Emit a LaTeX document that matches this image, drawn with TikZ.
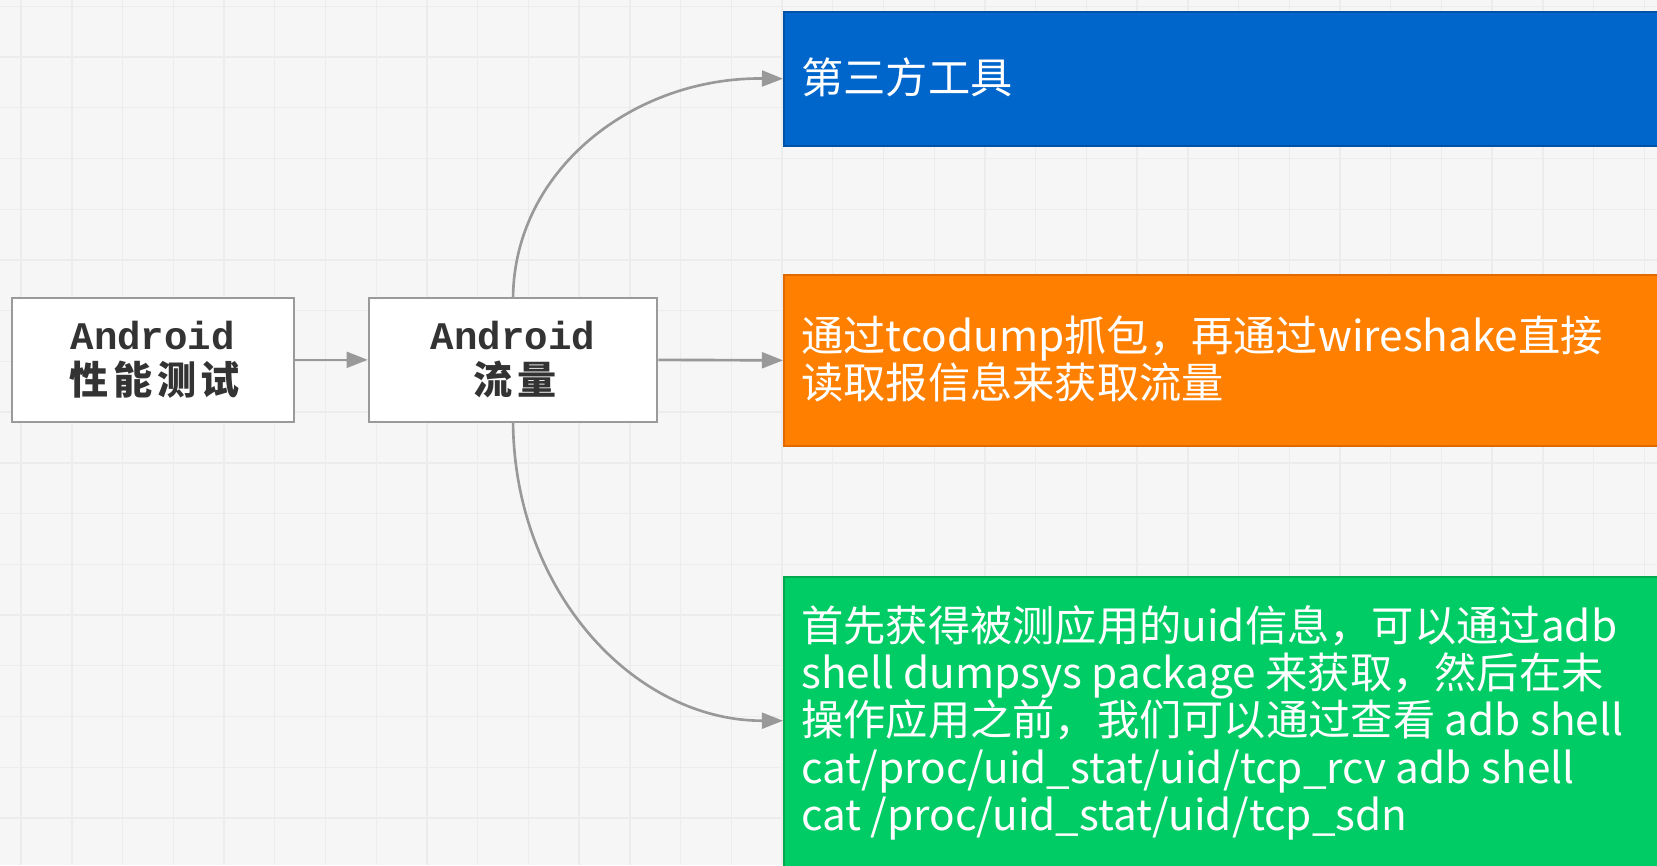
\documentclass[tikz,border=0pt]{standalone}
\usepackage{fontspec}
\usetikzlibrary{arrows.meta}
\newfontfamily\cjk{Noto Sans CJK SC}
\newfontfamily\cjkl[LetterSpace=12]{Noto Sans CJK SC}
\newfontfamily\monob{Liberation Mono}
\definecolor{bgc}{HTML}{F6F6F6}
\definecolor{gridc}{HTML}{ECECEC}
\definecolor{connc}{HTML}{999999}
\definecolor{boxb}{HTML}{9A9A9A}
\definecolor{txtc}{HTML}{333333}
\definecolor{bluef}{HTML}{0066CC}
\definecolor{blueb}{HTML}{0052A8}
\definecolor{orangef}{HTML}{FF8000}
\definecolor{orangeb}{HTML}{E06A00}
\definecolor{greenf}{HTML}{00CC66}
\definecolor{greenb}{HTML}{00A84E}
\begin{document}
\begin{tikzpicture}[x=1pt,y=-1pt,
  gridline/.style={draw=gridc, line width=1.3pt},
  conn/.style={draw=connc, line width=2.5pt, -{Triangle[length=20pt,width=15pt]}},
  leftbox/.style={draw=boxb, fill=white, line width=2pt, rectangle, inner sep=0pt,
    align=center, text=txtc, font=\fontsize{37}{43}\selectfont},
  rbox/.style={rectangle, line width=2pt, inner sep=0pt, anchor=north west, minimum width=880pt},
  rtext/.style={anchor=west, align=left, text=white, inner sep=0pt,
    font=\cjk\fontsize{40}{44.6}\selectfont}
]
\clip (0,0) rectangle (1568,819);
\fill[bgc] (0,0) rectangle (1568,819);
\foreach \x in {20,68,...,1568} \draw[gridline] (\x,0) -- (\x,819);
\foreach \y in {6,54,...,819} \draw[gridline] (0,\y) -- (1568,\y);

\node[leftbox, minimum width=267pt, minimum height=117pt] (perf) at (144.5,340.5)
  {{\monob\bfseries Android}\\{\cjkl\bfseries\hspace{4pt}性能测试}};
\node[leftbox, minimum width=273pt, minimum height=117pt] (flow) at (485.5,340.5)
  {{\monob\bfseries Android}\\{\cjkl\bfseries\hspace{4pt}流量}};

\node[rbox, fill=bluef, draw=blueb, minimum height=127pt] (tool) at (741,10) {};
\node[rbox, fill=orangef, draw=orangeb, minimum height=162pt] (dump) at (741,259) {};
\node[rbox, fill=greenf, draw=greenb, minimum height=320pt] (uid) at (741,545) {};
\coordinate (gin) at (741,682);

\node[rtext] (tooltxt) at (758,73) {第三方工具};
\node[rtext] (dumptxt) at (758,340) {通过tcodump抓包，再通过wireshake直接\\读取报信息来获取流量};
\node[rtext] (uidtxt) at (758,684) {首先获得被测应用的uid信息，可以通过adb\\shell dumpsys package 来获取，然后在未\\操作应用之前，我们可以通过查看 adb shell\\cat/proc/uid\_stat/uid/tcp\_rcv adb shell\\cat /proc/uid\_stat/uid/tcp\_sdn};

\draw[conn] (perf.east) -- (flow.west);
\draw[conn] (flow.east) -- (dump.west);
\draw[conn] (flow.north) .. controls (487,160) and (600,73) .. (tool.west);
\draw[conn] (flow.south) .. controls (487,560) and (600,682) .. (gin);
\end{tikzpicture}
\end{document}
